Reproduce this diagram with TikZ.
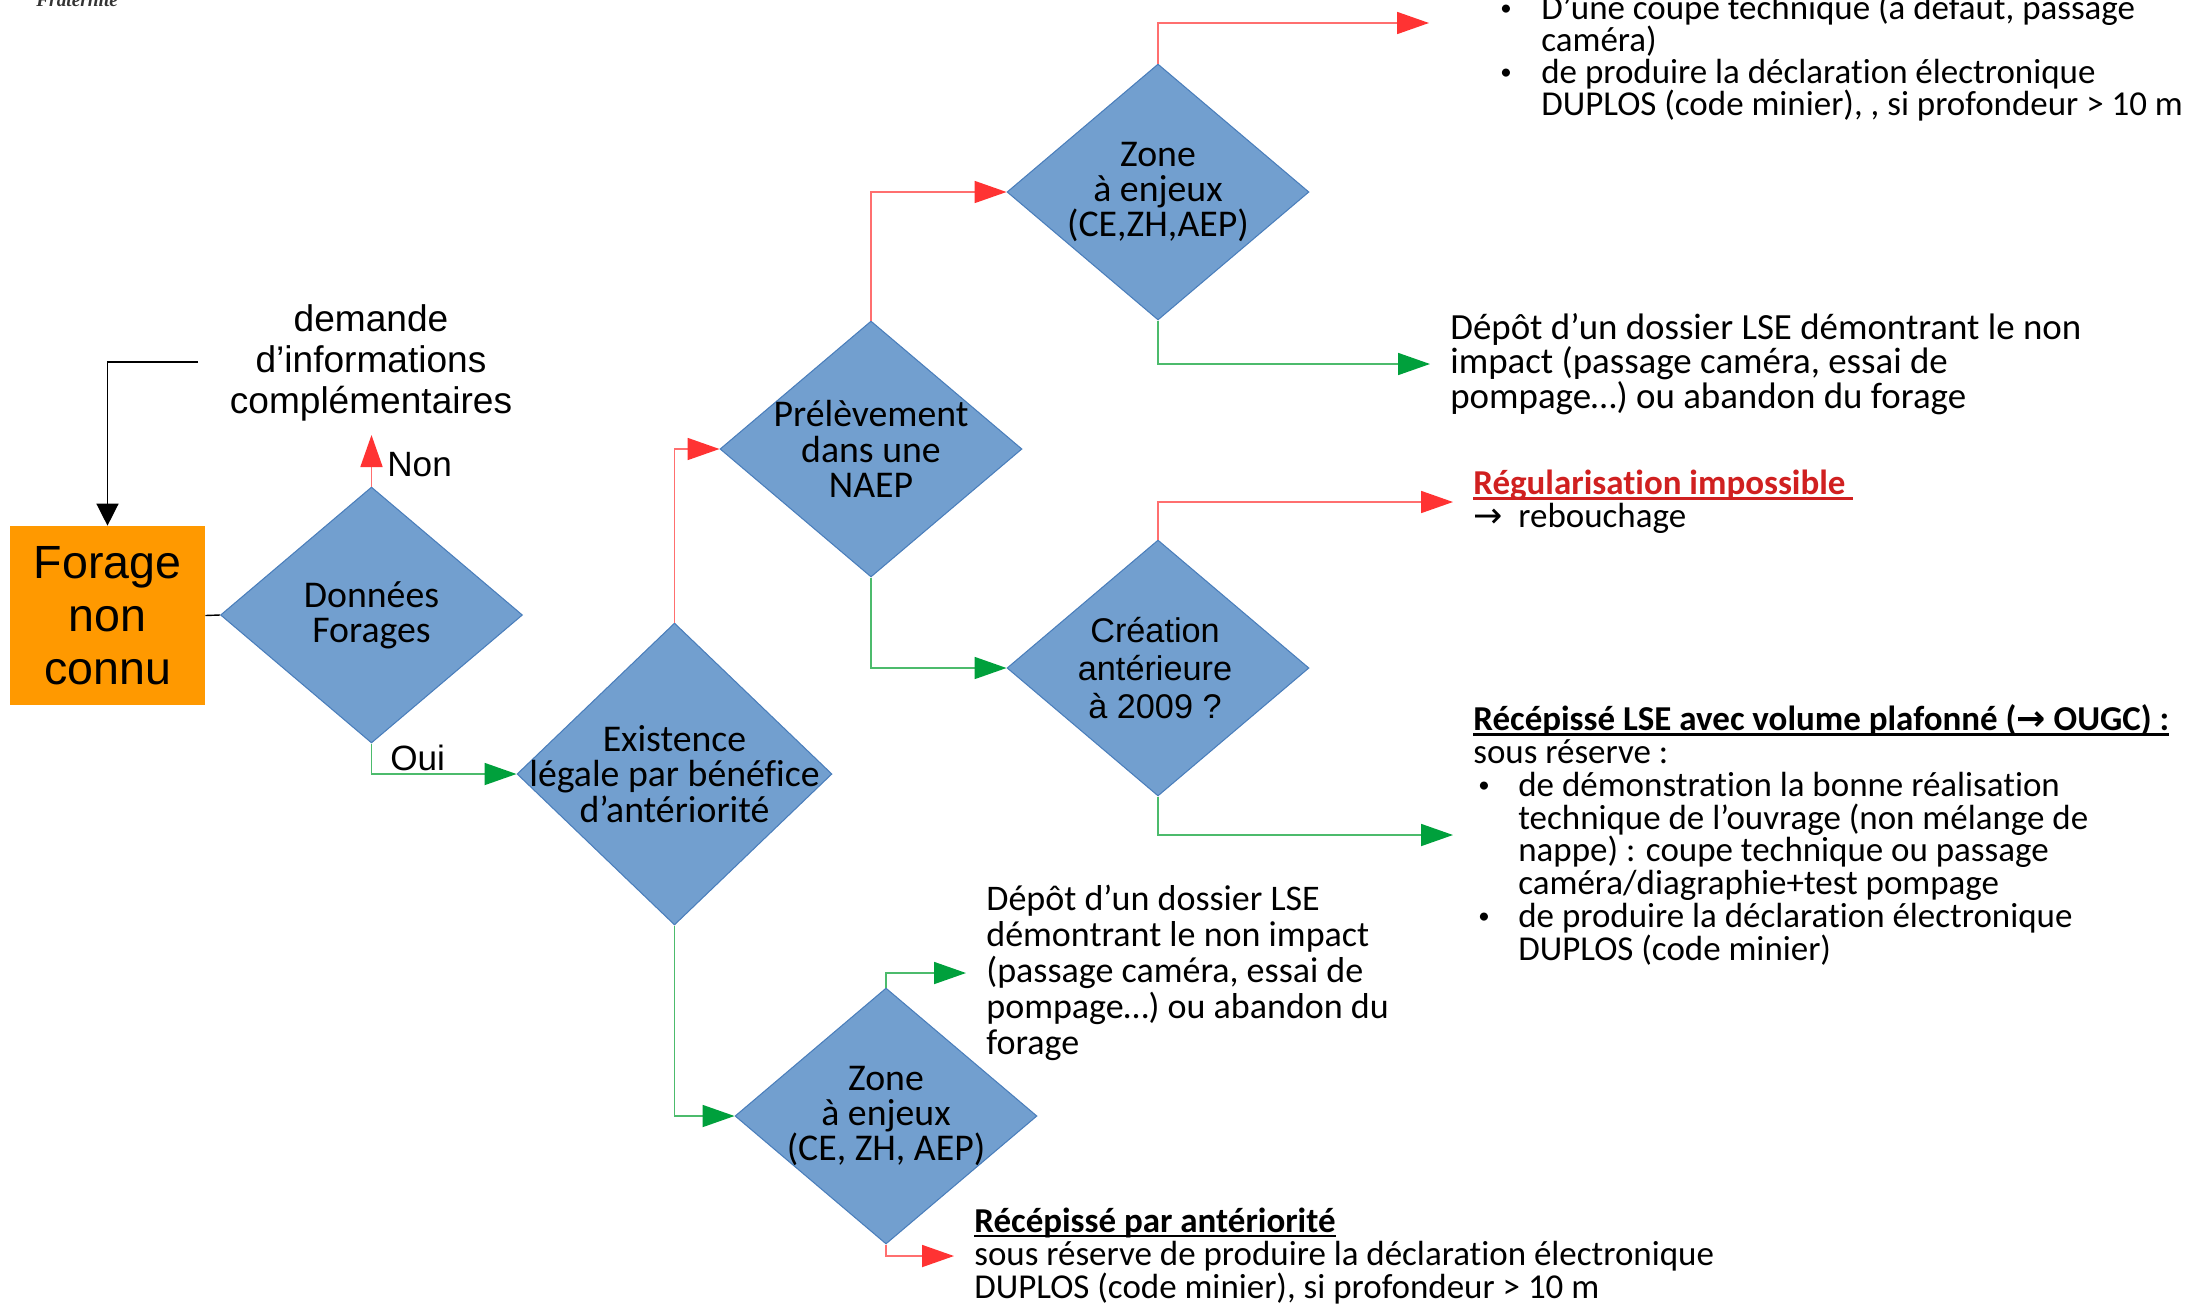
\documentclass[tikz,border=0pt]{standalone}
\usepackage{fontspec}
\setmainfont{Carlito}[Ligatures=NoCommon]
\newfontfamily\arialfont{Liberation Sans}
\newfontfamily\seriffont{Liberation Serif}
\newfontfamily\symfont{DejaVu Sans}
\usetikzlibrary{arrows.meta,shapes.geometric}
\definecolor{lblue}{HTML}{729FCF}
\definecolor{dblue}{HTML}{4A7EBB}
\definecolor{orangebox}{HTML}{FF9900}
\definecolor{redline}{HTML}{FF6F6F}
\definecolor{redtip}{HTML}{FF3333}
\definecolor{greenline}{HTML}{4CBB6C}
\definecolor{greentip}{HTML}{00A03C}
\definecolor{redtext}{HTML}{D02020}
\def\arr{{\symfont →}}
\def\pt{\raisebox{0.12em}{\fontsize{13}{13}\selectfont •}}
\def\puce{\makebox[0.8cm][l]{\pt}}
\def\souligne#1{\setbox0\hbox{#1}\rlap{\rule[-0.14em]{\wd0}{0.07em}}\box0}

\tikzset{
	decision/.style={diamond, draw=dblue, fill=lblue, line width=0.6pt, inner sep=0pt, minimum width=6.04cm, minimum height=5.12cm},
	dectext/.style={align=center, inner sep=0pt, font=\fontsize{21.5}{20.1}\selectfont},
	outcome/.style={anchor=west, align=left, inner xsep=0.4cm, inner ysep=0pt},
	nonlink/.style={draw=redline, line width=1pt, -{Triangle[length=0.64cm,width=0.44cm,color=redtip]}},
	ouilink/.style={draw=greenline, line width=1pt, -{Triangle[length=0.64cm,width=0.44cm,color=greentip]}},
}

\begin{document}
\begin{tikzpicture}[x=0.02cm,y=-0.02cm]
		%%%%% START %%%%%
		\useasboundingbox (0,0) rectangle (2186,1305);
		
		\node[anchor=base west, inner sep=0pt, font=\seriffont\bfseries\itshape\fontsize{11}{12}\selectfont, black!80] (frat) at (36,6) {Fraternité};
		
		\node[fill=orangebox, minimum width=3.9cm, minimum height=3.58cm, inner sep=0pt, align=center, font=\arialfont\fontsize{26.5}{30}\selectfont] (forage) at (107.5,615.5) {Forage\\non\\connu};
		\node[align=center, inner sep=0pt, font=\arialfont\fontsize{21.1}{23.5}\selectfont] (demande) at (371,363) {demande\\d’informations\\complémentaires};
		
		\node[decision] (donnees) at (371.5,615) {};
		\node[dectext] (donneestxt) at (donnees) {Données\\Forages};
		
		\node[decision, minimum width=6.3cm, minimum height=6.04cm] (existence) at (674.5,774) {};
		\node[dectext] (existencetxt) at (existence) {Existence\\légale par bénéfice\\d’antériorité};
		
		\node[decision] (prelev) at (871,449) {};
		\node[dectext] (prelevtxt) at (prelev) {Prélèvement\\dans une\\NAEP};
		
		\node[decision] (zonehaut) at (1158,192) {};
		\node[dectext] (zonehauttxt) at (zonehaut) {Zone\\à enjeux\\(CE,ZH,AEP)};
		
		\node[decision] (creation) at (1158,668) {};
		\node[align=center, inner sep=0pt, font=\arialfont\fontsize{19.5}{21.8}\selectfont] (creationtxt) at (1155,668) {Création\\antérieure\\à 2009 ?};
		
		\node[decision] (zonebas) at (886,1116) {};
		\node[dectext] (zonebastxt) at (zonebas) {Zone\\à enjeux\\(CE, ZH, AEP)};
		
		% issues
		\coordinate (zonefin) at (1429,23);
		\node[anchor=west, align=left, inner sep=0pt, font=\fontsize{19.9}{18.3}\selectfont] (conditions) at (1450,57.5) {%
			\hspace*{1cm}\makebox[0.82cm][l]{\pt}D’une coupe technique (à défaut, passage\\
			\hspace*{1.82cm}caméra)\\
			\hspace*{1cm}\makebox[0.82cm][l]{\pt}de produire la déclaration électronique\\
			\hspace*{1.82cm}DUPLOS (code minier), , si profondeur > 10 m};
		\node[outcome, font=\fontsize{21}{19.8}\selectfont] (depothaut) at (1430,364) {Dépôt d’un dossier LSE démontrant le non\\impact (passage caméra, essai de\\pompage…) ou abandon du forage};
		\node[outcome, font=\fontsize{19.9}{18.7}\selectfont] (regul) at (1453,502) {{\color{redtext}\textbf{\souligne{Régularisation impossible\ }}}\\\arr\hspace{0.45em}rebouchage};
		\node[outcome, font=\fontsize{19.9}{18.65}\selectfont] (recepLSE) at (1453,835) {%
			\textbf{\souligne{Récépissé LSE avec volume plafonné (\arr\ OUGC) :}}\\
			sous réserve :\\
			\hspace*{0.1cm}\puce de démonstration la bonne réalisation\\
			\hspace*{0.9cm}technique de l’ouvrage (non mélange de\\
			\hspace*{0.9cm}nappe) : coupe technique ou passage\\
			\hspace*{0.9cm}caméra/diagraphie+test pompage\\
			\hspace*{0.1cm}\puce de produire la déclaration électronique\\
			\hspace*{0.9cm}DUPLOS (code minier)};
		\node[outcome, font=\fontsize{20.5}{20.4}\selectfont] (depotbas) at (966,973) {Dépôt d’un dossier LSE\\démontrant le non impact\\(passage caméra, essai de\\pompage…) ou abandon du\\forage};
		\node[outcome, font=\fontsize{19.9}{18.8}\selectfont] (recepant) at (954,1256) {\textbf{\souligne{Récépissé par antériorité}}\\sous réserve de produire la déclaration électronique\\DUPLOS (code minier), si profondeur > 10 m};
		
		% liaisons
		\coordinate (retour) at (198,362);
		\draw[black, line width=0.8pt, -{Triangle[length=0.44cm,width=0.44cm]}] (retour) -| (forage.north);
		\draw[black, line width=0.8pt] (forage.east) -- (donnees.west);
		
		\coordinate (nonfin) at (371.5,435);
		\draw[nonlink] (donnees.north) -- (nonfin);
		\node[anchor=west, inner sep=0pt, font=\arialfont\fontsize{20}{24}\selectfont] (non) at (387,465) {Non};
		\draw[ouilink] (donnees.south) |- (existence.west);
		\node[anchor=west, inner sep=0pt, font=\arialfont\fontsize{20}{24}\selectfont] (oui) at (390,758) {Oui};
		
		\draw[nonlink] (existence.north) |- (prelev.west);
		\draw[ouilink] (existence.south) |- (zonebas.west);
		\draw[nonlink] (prelev.north) |- (zonehaut.west);
		\draw[ouilink] (prelev.south) |- (creation.west);
		\draw[nonlink] (zonehaut.north) |- (zonefin);
		\draw[ouilink] (zonehaut.south) |- (depothaut.west);
		\draw[nonlink] (creation.north) |- (regul.west);
		\draw[ouilink] (creation.south) |- (recepLSE.west);
		\draw[ouilink] (zonebas.north) |- (depotbas.west);
		\draw[nonlink] (zonebas.south) |- (recepant.west);
		%%%%% END %%%%%
\end{tikzpicture}
\end{document}
